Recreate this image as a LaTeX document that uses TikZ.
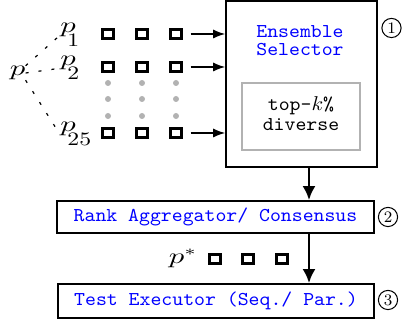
\documentclass[tikz,border=0pt]{standalone}
\usepackage{fontspec}
\usepackage{graphicx}
\usetikzlibrary{arrows.meta}
\newcommand\hs[1]{\scalebox{1.06}[1]{#1}}
\newcommand\hm[1]{\scalebox{1.4}[1]{#1}}
\newcommand\psub[1]{\hm{$p$}\kern-4.2pt\raisebox{-7pt}{\scalebox{1.25}[1]{\fontsize{9.5}{10}\selectfont #1}}}
\begin{document}
\begin{tikzpicture}[x=0.5pt,y=-0.5pt,
  sq/.style={draw, line width=1.3pt, minimum width=5.3pt, minimum height=4.4pt, inner sep=0pt},
  gdot/.style={circle, fill=black!30, minimum size=3pt, inner sep=0pt},
  blk/.style={draw, line width=0.8pt, inner sep=0pt},
  bt/.style={text=blue, font=\ttfamily\fontsize{9.8}{9.15}\selectfont, align=center},
  kt/.style={font=\ttfamily\fontsize{9.8}{10}\selectfont, align=center},
  ml/.style={font=\fontsize{10.5}{12}\selectfont, inner sep=0pt},
  thinarrow/.style={-{Latex[length=6pt,width=4.5pt]}, line width=0.7pt},
  thickarrow/.style={-{Latex[length=7pt,width=6.5pt]}, line width=1.4pt},
  dsh/.style={dash pattern=on 1.5pt off 5pt, line width=0.6pt},
  num/.style={draw, circle, line width=0.5pt, minimum size=9.6pt, inner sep=0pt, font=\fontsize{8}{8}\selectfont},
]
\useasboundingbox (0,0) rectangle (402,324);
% ensemble box
\node[blk, minimum width=75.5pt, minimum height=83pt] (ens) at (301.5,84) {};
\node[bt] (enst) at (300,42.5) {\hs{\begin{tabular}{@{}c@{}}Ensemble\\Selector\end{tabular}}};
\node[draw=black!30, line width=0.7pt, minimum width=59pt, minimum height=33.5pt, kt] (topk) at (301,116.5) {\hs{\begin{tabular}{@{}c@{}}top-$k$\%\\diverse\end{tabular}}};
\node[num] (n1) at (391.5,28) {1};
% input labels
\node[ml] (p) at (17.5,73) {\hm{$p$}};
\node[ml, anchor=base west] (p1) at (60,33) {\psub{1}};
\node[ml, anchor=base west] (p2) at (60,66) {\psub{2}};
\node[ml, anchor=base west] (p25) at (60,132) {\psub{25}};
\draw[dsh] (p.north east) -- (p1.west);
\draw[dsh] (p.east) -- (p2.west);
\draw[dsh] (p.south east) -- (p25.west);
% squares
\foreach \r/\y in {1/34,2/67,3/133}{
  \foreach \c/\x in {1/108,2/142,3/176}{
    \node[sq] (s\r\c) at (\x,\y) {};
  }
  \draw[thinarrow, shorten <=4pt] (s\r3.east) -- (s\r3.east -| ens.west);
}
\foreach \c/\x in {1/108,2/142,3/176}{
  \foreach \d/\y in {1/83,2/99,3/116}{
    \node[gdot] (g\c\d) at (\x,\y) {};
  }
}
% aggregator
\node[blk, minimum width=158.5pt, minimum height=16pt, bt] (agg) at (215.5,217) {\hs{Rank Aggregator/ Consensus}};
\node[num] (n2) at (388,217) {2};
\coordinate (ax) at (309,0);
\draw[thickarrow] (ax |- ens.south) -- (ax |- agg.north);
% p star
\node[ml] (ps) at (183,258) {\hm{$p^{*}$}};
\node[sq] (t1) at (215,259) {};
\node[sq] (t2) at (248,259) {};
\node[sq] (t3) at (282,259) {};
% executor
\node[blk, minimum width=158pt, minimum height=17pt, bt] (exe) at (216,301) {\hs{Test Executor (Seq./ Par.)}};
\node[num] (n3) at (388,300) {3};
\draw[thickarrow] (ax |- agg.south) -- (ax |- exe.north);
\end{tikzpicture}
\end{document}
